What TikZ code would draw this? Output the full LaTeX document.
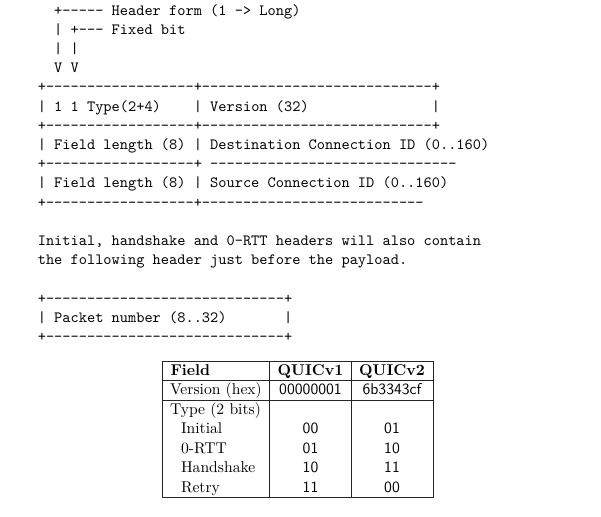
\documentclass[tikz,border=0pt]{standalone}
\usepackage{fontspec}
\begin{document}
\begin{tikzpicture}[x=0.6395pt,y=-0.6395pt,
  mono/.style={font=\ttfamily\frenchspacing, anchor=base west, inner sep=0pt, outer sep=0pt},
  cell/.style={font=\rmfamily, anchor=base west, inner sep=0pt, outer sep=0pt},
  hdr/.style={font=\rmfamily\bfseries, anchor=base, inner sep=0pt, outer sep=0pt},
  hdrl/.style={font=\rmfamily\bfseries, anchor=base west, inner sep=0pt, outer sep=0pt},
  val/.style={font=\sffamily, anchor=base, inner sep=0pt, outer sep=0pt},
  tabrule/.style={draw=black!85, line width=0.6pt}]
\useasboundingbox (0,0) rectangle (601,516);
\newcommand\mline[4]{\node[mono] (#1) at ({37.8+8.21*#2},{15+19.2*#3}) {#4};}
% ASCII header diagram
\mline{l0}{2}{0}{+----- Header form (1 -> Long)}
\mline{l1a}{2}{1}{|}
\mline{l1b}{4}{1}{+--- Fixed bit}
\mline{l2a}{2}{2}{|}
\mline{l2b}{4}{2}{|}
\mline{l3a}{2}{3}{V}
\mline{l3b}{4}{3}{V}
\mline{l4}{0}{4}{+------------------+----------------------------+}
\mline{l5a}{0}{5}{| 1 1 Type(2+4)}
\mline{l5b}{19}{5}{| Version (32)}
\mline{l5c}{48}{5}{|}
\mline{l6}{0}{6}{+------------------+----------------------------+}
\mline{l7}{0}{7}{| Field length (8) | Destination Connection ID (0..160)}
\mline{l8a}{0}{8}{+------------------+}
\mline{l8b}{21}{8}{------------------------------}
\mline{l9}{0}{9}{| Field length (8) | Source Connection ID (0..160)}
\mline{l10}{0}{10}{+------------------+---------------------------}
\mline{l12}{0}{12}{Initial, handshake and 0-RTT headers will also contain}
\mline{l13}{0}{13}{the following header just before the payload.}
\mline{l15}{0}{15}{+-----------------------------+}
\mline{l16a}{0}{16}{| Packet number (8..32)}
\mline{l16b}{30}{16}{|}
\mline{l17}{0}{17}{+-----------------------------+}
% table
\draw[tabrule] (162.5,361) rectangle (433,497);
\draw[tabrule] (162.5,380.5) -- (433,380.5);
\draw[tabrule] (162.5,400) -- (433,400);
\draw[tabrule] (269,361) -- (269,497);
\draw[tabrule] (351,361) -- (351,497);
\node[hdrl] (hf) at (170.5,375) {Field};
\node[hdr] (h1) at (310.5,375) {QUICv1};
\node[hdr] (h2) at (392,375) {QUICv2};
\node[cell] (rv) at (170,394.5) {Version (hex)};
\node[val] (v1) at (310.5,394.5) {00000001};
\node[val] (v2) at (392,394.5) {6b3343cf};
\node[cell] (rt) at (170,414) {Type (2 bits)};
\node[cell] (ri) at (181,433.5) {Initial};
\node[val] (i1) at (310.5,433.5) {00};
\node[val] (i2) at (392,433.5) {01};
\node[cell] (r0) at (181,453) {0-RTT};
\node[val] (z1) at (310.5,453) {01};
\node[val] (z2) at (392,453) {10};
\node[cell] (rh) at (181,472.5) {Handshake};
\node[val] (s1) at (310.5,472.5) {10};
\node[val] (s2) at (392,472.5) {11};
\node[cell] (rr) at (181,492) {Retry};
\node[val] (t1) at (310.5,492) {11};
\node[val] (t2) at (392,492) {00};
\end{tikzpicture}
\end{document}
